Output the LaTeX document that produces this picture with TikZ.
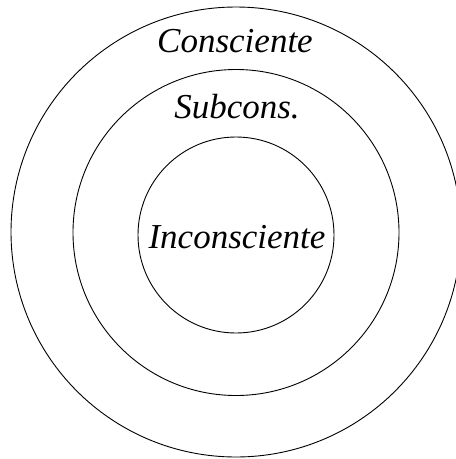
\documentclass[tikz,border=0pt]{standalone}
\usepackage{fontspec}
\setmainfont{Liberation Serif}
\begin{document}
\begin{tikzpicture}[x=1pt,y=-1pt,
  ring/.style={draw=black,line width=0.9pt},
  lbl/.style={font=\fontsize{35}{40}\selectfont\itshape,inner sep=0pt,anchor=base}]
\useasboundingbox (0,0) rectangle (456,459);
\clip (0,0) rectangle (456,459);
\node[ring,circle,minimum size=450pt,inner sep=0pt] (outer) at (236,232) {};
\node[ring,circle,minimum size=326pt,inner sep=0pt] (middle) at (236,232.5) {};
\node[ring,circle,minimum size=196pt,inner sep=0pt] (inner) at (236,235) {};
\node[lbl] (c) at (235,52) {Consciente};
\node[lbl] (s) at (237,118) {Subcons.};
\node[lbl] (i) at (237,248) {Inconsciente};
\end{tikzpicture}
\end{document}
